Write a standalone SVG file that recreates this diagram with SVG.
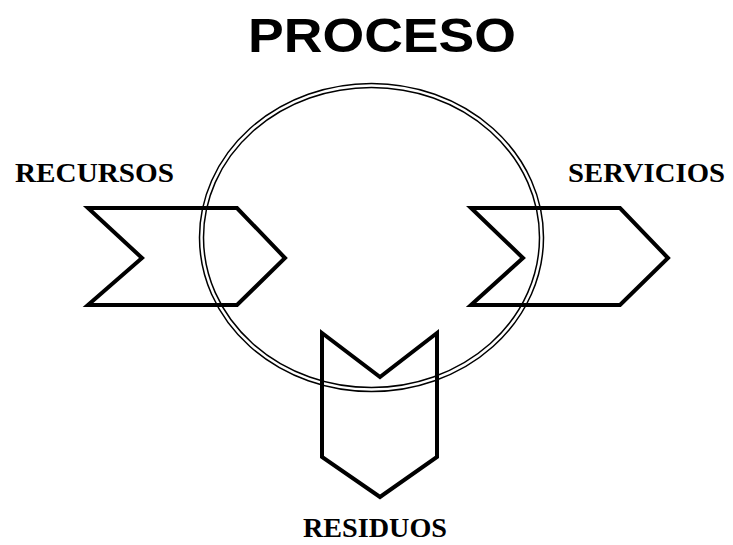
<svg xmlns="http://www.w3.org/2000/svg" width="733" height="545" viewBox="0 0 733 545">
<style>
.bg{fill:#ffffff}
.ring-o{fill:none;stroke:#000;stroke-width:5.5}
.ring-i{fill:none;stroke:#fff;stroke-width:2.5}
.shape{fill:none;stroke:#000;stroke-width:4;stroke-linejoin:miter}
.title{font-family:"Liberation Sans",Arial,sans-serif;font-weight:bold;font-size:48px;fill:#000}
.lbl{font-family:"Liberation Serif","Times New Roman",serif;font-weight:bold;font-size:28px;fill:#000}
</style>
<rect class="bg" x="0" y="0" width="733" height="545"/>
<g id="title">
<text class="title" x="382" y="52" text-anchor="middle" textLength="268" lengthAdjust="spacingAndGlyphs">PROCESO</text>
</g>
<g id="proceso">
<ellipse class="ring-o" cx="371.5" cy="237.5" rx="170" ry="152"/>
<ellipse class="ring-i" cx="371.5" cy="237.5" rx="170" ry="152"/>
</g>
<g id="recursos">
<polygon class="shape" points="88,208 237,208 285,258 237,305 88,305 142,258"/>
<text class="lbl" x="15" y="182" textLength="159" lengthAdjust="spacingAndGlyphs">RECURSOS</text>
</g>
<g id="servicios">
<polygon class="shape" points="471,208 620,208 668,258 620,305 471,305 523,258"/>
<text class="lbl" x="568" y="182" textLength="157" lengthAdjust="spacingAndGlyphs">SERVICIOS</text>
</g>
<g id="residuos">
<polygon class="shape" points="322,333 380,377 437,333 437,457 380,497 322,457"/>
<text class="lbl" x="303" y="537" textLength="144" lengthAdjust="spacingAndGlyphs">RESIDUOS</text>
</g>
<g id="connectors"></g>
</svg>
